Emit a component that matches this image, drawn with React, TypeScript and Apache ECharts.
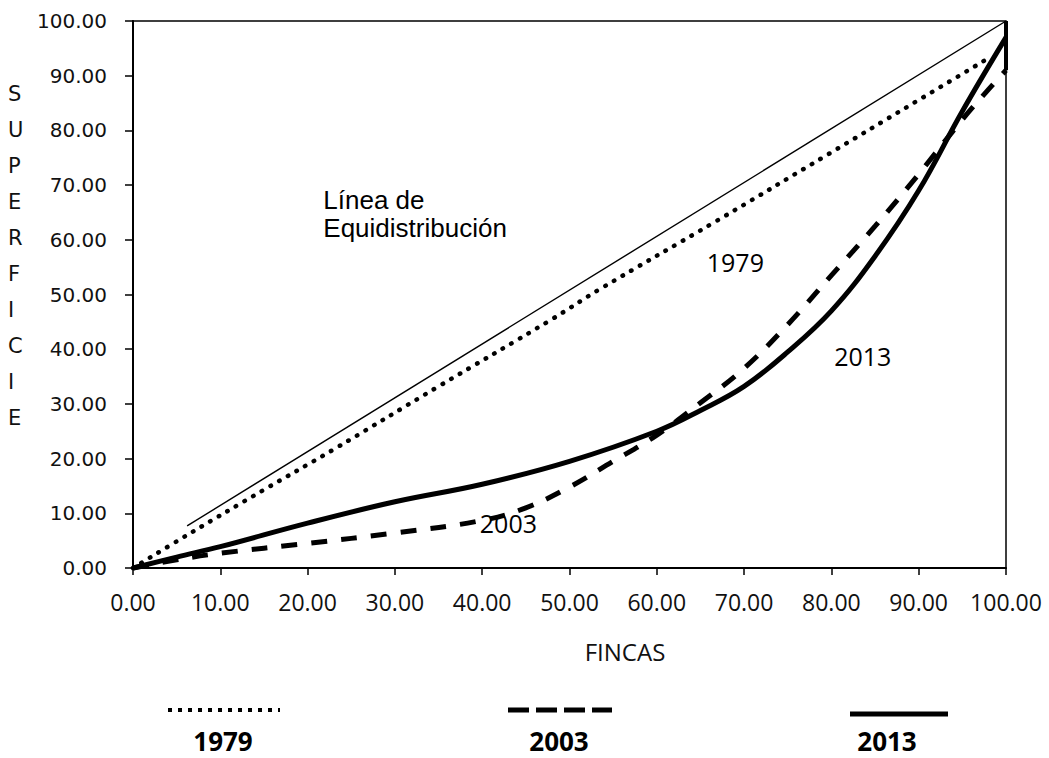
import React, { useEffect, useRef } from "react";
import * as echarts from "echarts";

// ---- data ----
const eqX = [6.2, 100];
const eqY = [7.7, 100];

const x1979 = [0, 6.5, 15, 22.9, 35, 47.8, 53.5, 66.8, 79.8, 89, 98.2];
const y1979 = [0, 6.3, 14.3, 21.6, 33.2, 45.3, 51.0, 63.4, 75.8, 84.6, 93.4];

const x2003 = [0, 5, 10, 20, 30, 40, 45, 50, 55, 60, 65, 70, 75, 80, 85, 90, 95, 98, 100];
const y2003 = [0, 1.5, 2.7, 4.5, 6.4, 8.7, 11, 14.8, 19.5, 24.3, 30.2, 36.5, 44.5, 53.5, 62.5, 72, 82, 87.5, 91];

const x2013 = [0, 5, 10, 20, 30, 40, 50, 60, 65, 70, 75, 80, 85, 90, 95, 100];
const y2013 = [0, 2, 3.9, 8.2, 12.1, 15.3, 19.5, 25, 28.8, 33.2, 39.5, 47, 57, 69, 83.5, 97];

// closing segment of the curves along the right border (x = 100)
const closeX = [100, 100];
const closeY = [91, 100];

const annotationTexts = ["Línea de\nEquidistribución", "1979", "2013", "2003"];
const annotationX = [21.8, 69, 83.6, 43];
const annotationY = [64.8, 56, 38.8, 8.2];

const legendYears = ["1979", "2003", "2013"];

const pair = (xs: number[], ys: number[]) => xs.map((x, i) => [x, ys[i]]);

export default function App() {
  const ref = useRef<HTMLDivElement>(null);
  useEffect(() => {
    if (!ref.current) return;
    const chart = echarts.init(ref.current, null, { renderer: "svg" });
    const tickFont = { fontFamily: "Open Sans", fontSize: 23, color: "#111" };
    chart.setOption({
      animation: false,
      backgroundColor: "#fff",
      grid: {
        left: 133,
        right: 43,
        top: 21,
        bottom: 190,
        show: true,
        borderColor: "#000",
        borderWidth: 1.5,
      },
      xAxis: {
        type: "value",
        min: 0,
        max: 100,
        interval: 10,
        splitLine: { show: false },
        axisLine: { show: true, lineStyle: { color: "#000", width: 2 } },
        axisTick: { show: true, length: 7, inside: false, lineStyle: { color: "#000", width: 1.5 } },
        axisLabel: {
          ...tickFont,
          margin: 22,
          formatter: (v: number) => v.toFixed(2),
        },
      },
      yAxis: {
        type: "value",
        min: 0,
        max: 100,
        interval: 10,
        splitLine: { show: false },
        axisLine: { show: true, lineStyle: { color: "#000", width: 2 } },
        axisTick: { show: true, length: 8, inside: false, lineStyle: { color: "#000", width: 1.5 } },
        axisLabel: {
          fontFamily: "DejaVu Sans",
          fontSize: 20,
          color: "#111",
          margin: 26,
          formatter: (v: number) => v.toFixed(2),
        },
      },
      series: [
        {
          name: "Equidistribución",
          type: "line",
          data: pair(eqX, eqY),
          symbol: "none",
          clip: false,
          lineStyle: { color: "#000", width: 1.4 },
        },
        {
          name: "1979",
          type: "line",
          data: pair(x1979, y1979),
          symbol: "none",
          smooth: 0.4,
          clip: false,
          lineStyle: { color: "#000", width: 4.5, type: [0.5, 9.5], cap: "round" },
        },
        {
          name: "2003",
          type: "line",
          data: pair(x2003, y2003),
          symbol: "none",
          smooth: 0.4,
          clip: false,
          lineStyle: { color: "#000", width: 5, type: [16, 14], cap: "butt" },
        },
        {
          name: "2013",
          type: "line",
          data: pair(x2013, y2013),
          symbol: "none",
          smooth: 0.4,
          clip: false,
          lineStyle: { color: "#000", width: 5 },
        },
        {
          name: "cierre",
          type: "line",
          data: pair(closeX, closeY),
          symbol: "none",
          clip: false,
          lineStyle: { color: "#000", width: 4 },
        },
      ],
    });

    const annotationGraphics = annotationTexts.map((t, i) => {
      const [px, py] = chart.convertToPixel({ gridIndex: 0 }, [annotationX[i], annotationY[i]]) as number[];
      const isEq = i === 0;
      return {
        type: "text",
        x: px,
        y: py,
        silent: true,
        style: {
          text: t,
          fontFamily: isEq ? "Liberation Sans" : "Open Sans",
          fontSize: isEq ? 26 : 25,
          lineHeight: isEq ? 28 : 30,
          align: isEq ? "left" : "center",
          verticalAlign: "middle",
          fill: "#000",
        },
      };
    });

    chart.setOption({
      graphic: [
        ...annotationGraphics,
        {
          type: "text",
          left: 8,
          top: 76,
          style: {
            text: "SUPERFICIE".split("").join("\n"),
            fontFamily: "DejaVu Sans",
            fontSize: 21,
            lineHeight: 36,
            align: "center",
            fill: "#111",
            width: 20,
          },
        },
        {
          type: "text",
          x: 625,
          y: 651,
          style: {
            text: "FINCAS",
            fontFamily: "Open Sans",
            fontSize: 24,
            align: "center",
            verticalAlign: "middle",
            fill: "#111",
          },
        },
        {
          type: "line",
          shape: { x1: 168, y1: 710, x2: 280, y2: 710 },
          style: { stroke: "#000", lineWidth: 4, lineDash: [4, 6] },
        },
        {
          type: "line",
          shape: { x1: 508, y1: 710, x2: 612, y2: 710 },
          style: { stroke: "#000", lineWidth: 5, lineDash: [21, 7] },
        },
        {
          type: "line",
          shape: { x1: 850, y1: 714, x2: 948, y2: 714 },
          style: { stroke: "#000", lineWidth: 5 },
        },
        ...legendYears.map((yr, i) => ({
          type: "text",
          x: [223, 559, 887][i],
          y: 741,
          style: {
            text: yr,
            fontFamily: "Open Sans",
            fontWeight: "bold",
            fontSize: 26,
            lineHeight: 26,
            align: "center",
            verticalAlign: "middle",
            fill: "#000",
          },
        })),
      ],
    });
    return () => chart.dispose();
  }, []);
  return (
    <div
      ref={ref}
      style={{ position: "fixed", left: 0, top: 0, width: 1049, height: 758, background: "#fff" }}
    />
  );
}
